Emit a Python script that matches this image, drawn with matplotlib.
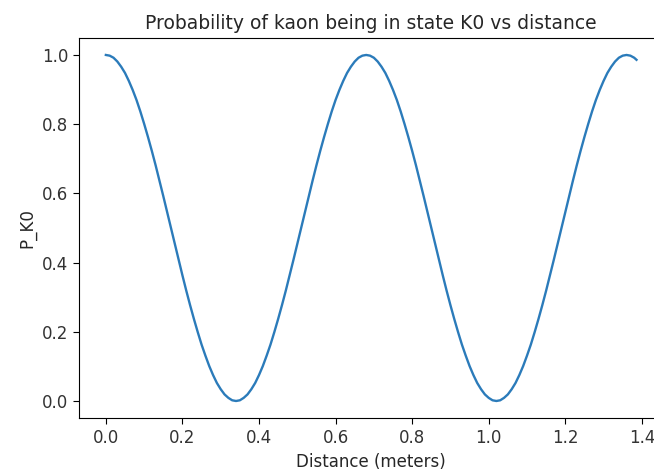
import matplotlib
matplotlib.use('Agg')
import matplotlib.pyplot as plt

# Distance (m) and probability of K0
distance = [0.00, 0.01, 0.02, 0.03, 0.04, 0.05, 0.06, 0.07, 0.08, 0.09,
            0.10, 0.11, 0.12, 0.13, 0.14, 0.15, 0.16, 0.17, 0.18, 0.19,
            0.20, 0.21, 0.22, 0.23, 0.24, 0.25, 0.26, 0.27, 0.28, 0.29,
            0.30, 0.31, 0.32, 0.33, 0.34, 0.35, 0.36, 0.37, 0.38, 0.39,
            0.40, 0.41, 0.42, 0.43, 0.44, 0.45, 0.46, 0.47, 0.48, 0.49,
            0.50, 0.51, 0.52, 0.53, 0.54, 0.55, 0.56, 0.57, 0.58, 0.59,
            0.60, 0.61, 0.62, 0.63, 0.64, 0.65, 0.66, 0.67, 0.68, 0.69,
            0.70, 0.71, 0.72, 0.73, 0.74, 0.75, 0.76, 0.77, 0.78, 0.79,
            0.80, 0.81, 0.82, 0.83, 0.84, 0.85, 0.86, 0.87, 0.88, 0.89,
            0.90, 0.91, 0.92, 0.93, 0.94, 0.95, 0.96, 0.97, 0.98, 0.99,
            1.00, 1.01, 1.02, 1.03, 1.04, 1.05, 1.06, 1.07, 1.08, 1.09,
            1.10, 1.11, 1.12, 1.13, 1.14, 1.15, 1.16, 1.17, 1.18, 1.19,
            1.20, 1.21, 1.22, 1.23, 1.24, 1.25, 1.26, 1.27, 1.28, 1.29,
            1.30, 1.31, 1.32, 1.33, 1.34, 1.35, 1.36, 1.37, 1.38, 1.386]
p_k0 = [1.000, 0.998, 0.992, 0.981, 0.966, 0.948, 0.925, 0.899, 0.870, 0.837,
        0.801, 0.763, 0.723, 0.681, 0.637, 0.592, 0.546, 0.500, 0.454, 0.408,
        0.363, 0.319, 0.277, 0.237, 0.199, 0.163, 0.131, 0.101, 0.075, 0.052,
        0.034, 0.019, 0.009, 0.002, 0.000, 0.002, 0.009, 0.019, 0.034, 0.052,
        0.075, 0.101, 0.131, 0.163, 0.199, 0.237, 0.277, 0.319, 0.363, 0.408,
        0.454, 0.500, 0.546, 0.592, 0.637, 0.681, 0.723, 0.763, 0.801, 0.837,
        0.870, 0.899, 0.925, 0.948, 0.966, 0.981, 0.992, 0.998, 1.000, 0.998,
        0.992, 0.981, 0.966, 0.948, 0.925, 0.899, 0.870, 0.837, 0.801, 0.763,
        0.723, 0.681, 0.637, 0.592, 0.546, 0.500, 0.454, 0.408, 0.363, 0.319,
        0.277, 0.237, 0.199, 0.163, 0.131, 0.101, 0.075, 0.052, 0.034, 0.019,
        0.009, 0.002, 0.000, 0.002, 0.009, 0.019, 0.034, 0.052, 0.075, 0.101,
        0.131, 0.163, 0.199, 0.237, 0.277, 0.319, 0.363, 0.408, 0.454, 0.500,
        0.546, 0.592, 0.637, 0.681, 0.723, 0.763, 0.801, 0.837, 0.870, 0.899,
        0.925, 0.948, 0.966, 0.981, 0.992, 0.998, 1.000, 0.998, 0.992, 0.986]

fig = plt.figure(figsize=(6.54, 4.72), dpi=100)
# the original is cropped on the right, so the axes run past the figure edge
ax = fig.add_axes([0.1213, 0.1138, 0.8925, 0.8064])
ax.spines['right'].set_visible(False)

ax.plot(distance, p_k0, color='#2b7bba', linewidth=1.7)
ax.set_title('Probability of kaon being in state K0 vs distance', fontsize=13.5, color='#262626')
ax.set_xlabel('Distance (meters)', fontsize=12, color='#262626')
ax.set_ylabel('P_K0', fontsize=12, color='#262626')
ax.set_xticks([0.0, 0.2, 0.4, 0.6, 0.8, 1.0, 1.2, 1.4])
ax.set_yticks([0.0, 0.2, 0.4, 0.6, 0.8, 1.0])
ax.tick_params(labelsize=12, labelcolor='#333333', length=4.5)

fig.savefig('out.png', dpi=100)
